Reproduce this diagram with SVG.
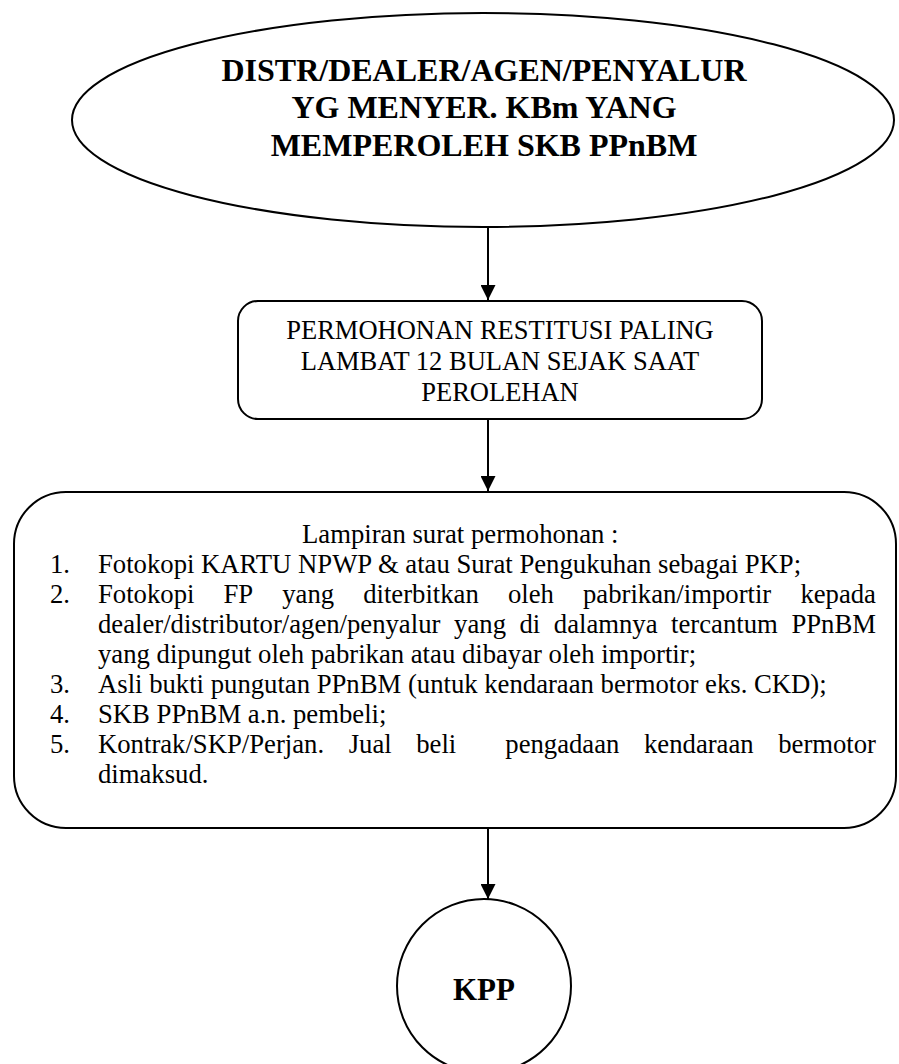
<svg xmlns="http://www.w3.org/2000/svg" width="899" height="1064" viewBox="0 0 899 1064">
<style>
.shape{fill:#fff;stroke:#000;stroke-width:2}
.conn{stroke:#000;stroke-width:2;fill:none}
.t{font-family:"Liberation Serif","Times New Roman",serif;fill:#000}
.title{font-size:32px;font-weight:bold;text-anchor:middle}
.mid{font-size:26.5px;text-anchor:middle}
.list{font-size:26.7px}
.kpp{font-size:31px;font-weight:bold;text-anchor:middle}
</style>
<defs>
<marker id="arr" markerWidth="15" markerHeight="15" refX="15" refY="7.5" orient="auto" markerUnits="userSpaceOnUse">
<path d="M0,0 L15,7.5 L0,15 Z" fill="#000"/>
</marker>
</defs>
<rect width="899" height="1064" fill="#fff"/>
<g id="connectors">
<line class="conn" x1="488" y1="227" x2="488" y2="300" marker-end="url(#arr)"/>
<line class="conn" x1="488" y1="419" x2="488" y2="491" marker-end="url(#arr)"/>
<line class="conn" x1="488" y1="828" x2="488" y2="899" marker-end="url(#arr)"/>
</g>
<g id="node-distributor">
<ellipse class="shape" cx="483" cy="120" rx="411" ry="107"/>
<text class="t title" x="484" y="81">DISTR/DEALER/AGEN/PENYALUR</text>
<text class="t title" x="484" y="118">YG MENYER. KBm YANG</text>
<text class="t title" x="484" y="156">MEMPEROLEH SKB PPnBM</text>
</g>
<g id="node-permohonan">
<rect class="shape" x="238" y="301" width="524" height="118" rx="20" ry="20"/>
<text class="t mid" x="500" y="339">PERMOHONAN RESTITUSI PALING</text>
<text class="t mid" x="500" y="370">LAMBAT 12 BULAN SEJAK SAAT</text>
<text class="t mid" x="500" y="401">PEROLEHAN</text>
</g>
<g id="node-lampiran">
<rect class="shape" x="14" y="492" width="882" height="336" rx="52" ry="52"/>
<text class="t list" x="302" y="543">Lampiran surat permohonan :</text>
<text class="t list" x="50" y="573">1.</text>
<text class="t list" x="98" y="573">Fotokopi KARTU NPWP &amp; atau Surat Pengukuhan sebagai PKP;</text>
<text class="t list" x="50" y="603">2.</text>
<text class="t list" y="603"><tspan x="98">Fotokopi</tspan><tspan x="223.5">FP</tspan><tspan x="282.2">yang</tspan><tspan x="363.2">diterbitkan</tspan><tspan x="507.9">oleh</tspan><tspan x="583">pabrikan/importir</tspan><tspan x="800.4">kepada</tspan></text>
<text class="t list" y="633"><tspan x="98">dealer/distributor/agen/penyalur</tspan><tspan x="454.1">yang</tspan><tspan x="519.5">di</tspan><tspan x="553.8">dalamnya</tspan><tspan x="671.1">tercantum</tspan><tspan x="791.4">PPnBM</tspan></text>
<text class="t list" x="98" y="663">yang dipungut oleh pabrikan atau dibayar oleh importir;</text>
<text class="t list" x="50" y="693">3.</text>
<text class="t list" x="98" y="693">Asli bukti pungutan PPnBM (untuk kendaraan bermotor eks. CKD);</text>
<text class="t list" x="50" y="723">4.</text>
<text class="t list" x="98" y="723">SKB PPnBM a.n. pembeli;</text>
<text class="t list" x="50" y="753">5.</text>
<text class="t list" y="753"><tspan x="98">Kontrak/SKP/Perjan.</tspan><tspan x="348.7">Jual</tspan><tspan x="416.2">beli</tspan><tspan x="505.3">pengadaan</tspan><tspan x="644">kendaraan</tspan><tspan x="778.2">bermotor</tspan></text>
<text class="t list" x="98" y="783">dimaksud.</text>
</g>
<g id="node-kpp">
<circle class="shape" cx="484" cy="986" r="87"/>
<text class="t kpp" x="484" y="1000">KPP</text>
</g>
</svg>
